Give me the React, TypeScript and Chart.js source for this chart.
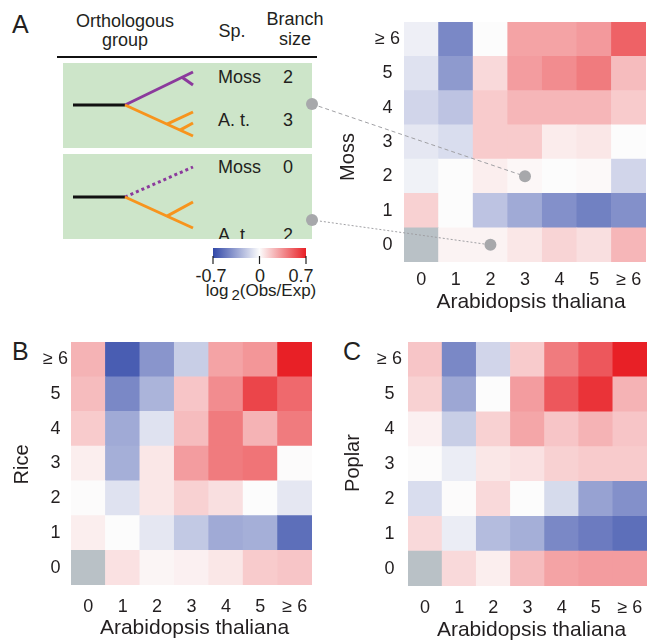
import React, { useEffect, useRef } from 'react';
import { Chart, registerables } from 'chart.js';

Chart.register(...registerables);

// ---------- data ----------
const xLabels = ['0', '1', '2', '3', '4', '5', '≥ 6'];
const yLabels = ['0', '1', '2', '3', '4', '5', '≥ 6'];
const xTitle = 'Arabidopsis thaliana';

// rows listed from bottom (0) to top (≥ 6); null = not applicable (grey)
const mossValues: (number | null)[][] = [
  [null, 0.05, 0.05, 0.1, 0.17, 0.13, 0.27],
  [0.18, 0, -0.22, -0.32, -0.42, -0.48, -0.42],
  [-0.04, 0, 0.07, 0.03, 0, 0.02, -0.15],
  [-0.08, -0.12, 0.2, 0.2, 0.08, 0.1, 0],
  [-0.15, -0.22, 0.2, 0.27, 0.27, 0.27, 0.2],
  [-0.1, -0.38, 0.15, 0.35, 0.4, 0.45, 0.25],
  [-0.05, -0.45, 0, 0.33, 0.33, 0.36, 0.52],
];
const riceValues: (number | null)[][] = [
  [null, 0.12, 0.04, 0.06, 0.1, 0.2, 0.22],
  [0.07, 0, -0.08, -0.2, -0.32, -0.3, -0.55],
  [0.01, -0.1, 0.1, 0.18, 0.13, 0, -0.08],
  [0.07, -0.3, 0.1, 0.35, 0.45, 0.47, 0.01],
  [0.2, -0.32, -0.1, 0.25, 0.45, 0.28, 0.45],
  [0.25, -0.45, -0.28, 0.22, 0.4, 0.6, 0.5],
  [0.28, -0.62, -0.4, -0.18, 0.33, 0.37, 0.7],
];
const poplarValues: (number | null)[][] = [
  [null, 0.15, 0.07, 0.25, 0.33, 0.35, 0.35],
  [0.15, -0.06, -0.25, -0.3, -0.45, -0.5, -0.55],
  [-0.12, 0.01, 0.15, 0, -0.13, -0.35, -0.42],
  [0.01, -0.06, 0.1, 0.12, 0.18, 0.2, 0.2],
  [0.06, -0.18, 0.18, 0.32, 0.22, 0.28, 0.22],
  [0.18, -0.33, 0, 0.35, 0.55, 0.65, 0.28],
  [0.22, -0.45, -0.15, 0.2, 0.45, 0.55, 0.7],
];
const colorbarTicks = ['-0.7', '0', '0.7'];
const VMAX = 0.7;

// highlighted example cells in the Moss heat map: [A. t. column, Moss row]
const mossLinks: { col: number; row: number; fromY: number; dash: number[] }[] = [
  { col: 3, row: 2, fromY: 104, dash: [4, 3] },
  { col: 2, row: 0, fromY: 220, dash: [2, 2] },
];

// ---------- style ----------
const FONT = "'Liberation Sans', Arial, Helvetica, sans-serif";
const TEXT = '#231f20';
const BLUE = [50, 72, 168];
const RED = [232, 32, 38];
const MID = [252, 252, 252];
const NA = '#b9c1c6';

function cellColor(v: number | null): string {
  if (v === null || v === undefined) return NA;
  let t = Math.min(1, Math.abs(v) / VMAX);
  if (v > 0) t = Math.pow(t, 1.2);
  const end = v >= 0 ? RED : BLUE;
  const c = MID.map((m, i) => Math.round(m + (end[i] - m) * t));
  return `rgb(${c[0]},${c[1]},${c[2]})`;
}

type Area = { l: number; t: number; r: number; b: number };
type HeatProps = {
  values: (number | null)[][];
  yTitle: string;
  left: number;
  top: number;
  width: number;
  height: number;
  padLeft: number;
  area: Area;
  tickPadX: number;
  tickPadY: number;
  xTitleDx: number;
  xTitleDy: number;
  yTitleDx: number;
  yTitleDy: number;
  links?: typeof mossLinks;
  linkFromX?: number;
};

function Heatmap(p: HeatProps) {
  const ref = useRef<HTMLCanvasElement | null>(null);
  useEffect(() => {
    const datasets = p.values.map((row, r) => ({
      data: xLabels.map(() => [r, r + 1]),
      backgroundColor: row.map(cellColor),
      borderWidth: 0,
      barPercentage: 1,
      categoryPercentage: 1,
      grouped: false,
    }));
    const titles = {
      id: 'titles',
      afterDraw(chart: any) {
        const { ctx, chartArea: a } = chart;
        ctx.save();
        ctx.fillStyle = TEXT;
        ctx.textAlign = 'center';
        ctx.textBaseline = 'middle';
        ctx.font = `21px ${FONT}`;
        ctx.fillText(xTitle, (a.left + a.right) / 2 + p.xTitleDx, a.bottom + p.xTitleDy);
        ctx.font = `20px ${FONT}`;
        ctx.translate(a.left - p.yTitleDx, (a.top + a.bottom) / 2 + p.yTitleDy);
        ctx.rotate(-Math.PI / 2);
        ctx.fillText(p.yTitle, 0, 0);
        ctx.restore();
      },
    };
    const links = {
      id: 'links',
      afterDraw(chart: any) {
        if (!p.links) return;
        const { ctx } = chart;
        const xs = chart.scales.x;
        const ys = chart.scales.y;
        ctx.save();
        for (const lk of p.links) {
          const cx = xs.getPixelForValue(lk.col);
          const cy = ys.getPixelForValue(lk.row + 0.5);
          const fx = p.linkFromX as number;
          ctx.strokeStyle = '#a0a0a4';
          ctx.lineWidth = 1;
          ctx.setLineDash(lk.dash);
          ctx.beginPath();
          ctx.moveTo(fx, lk.fromY);
          ctx.lineTo(cx, cy);
          ctx.stroke();
          ctx.setLineDash([]);
          ctx.fillStyle = '#a7a8ab';
          ctx.beginPath();
          ctx.arc(fx, lk.fromY, 6, 0, Math.PI * 2);
          ctx.fill();
          ctx.beginPath();
          ctx.arc(cx, cy, 6, 0, Math.PI * 2);
          ctx.fill();
        }
        ctx.restore();
      },
    };
    const tickFont = { family: FONT, size: 18 };
    const chart = new Chart(ref.current as HTMLCanvasElement, {
      type: 'bar',
      data: { labels: xLabels, datasets: datasets as any },
      options: {
        responsive: false,
        animation: false,
        layout: {
          padding: { left: p.padLeft, right: p.width - p.area.r, top: p.area.t, bottom: 0 },
        },
        plugins: { legend: { display: false }, tooltip: { enabled: false } },
        scales: {
          x: {
            type: 'category',
            grid: { display: false, drawTicks: false },
            border: { display: false },
            ticks: { font: tickFont, color: TEXT, padding: p.tickPadX, maxRotation: 0, autoSkip: false },
            afterFit: (s: any) => {
              s.height = p.height - p.area.b;
              s.paddingLeft = 0;
              s.paddingRight = 0;
            },
          },
          y: {
            type: 'linear',
            min: 0,
            max: 7,
            grid: { display: false, drawTicks: false },
            border: { display: false },
            ticks: {
              font: tickFont,
              color: TEXT,
              padding: p.tickPadY,
              crossAlign: 'center',
              callback: (v: any) => yLabels[Math.floor(Number(v))] ?? '',
            },
            afterBuildTicks: (s: any) => {
              s.ticks = yLabels.map((_, i) => ({ value: i + 0.5 }));
            },
            afterFit: (s: any) => {
              s.width = p.area.l - p.padLeft;
              s.paddingTop = 0;
              s.paddingBottom = 0;
            },
          },
        },
      } as any,
      plugins: [titles, links],
    });
    return () => chart.destroy();
  }, []);
  return (
    <canvas
      ref={ref}
      width={p.width}
      height={p.height}
      style={{ position: 'absolute', left: p.left, top: p.top, width: p.width, height: p.height }}
    />
  );
}

function Diagram() {
  const green = '#cde5c9';
  const purple = '#8b3a9c';
  const orange = '#f7941d';
  const sw = 3;
  const t = { fontFamily: FONT, fill: TEXT } as any;
  const rgb = (c: number[]) => `rgb(${c[0]},${c[1]},${c[2]})`;
  return (
    <svg width={658} height={640} style={{ position: 'absolute', left: 0, top: 0 }}>
      <defs>
        <linearGradient id="cbar" x1="0" x2="1" y1="0" y2="0">
          <stop offset="0" stopColor={rgb(BLUE)} />
          <stop offset="0.5" stopColor={rgb(MID)} />
          <stop offset="1" stopColor={rgb(RED)} />
        </linearGradient>
        <clipPath id="box2">
          <rect x={63} y={154} width={249} height={85} />
        </clipPath>
      </defs>
      {/* panel letters */}
      <text x={12} y={33} fontSize={25} {...t}>A</text>
      <text x={12} y={360} fontSize={25} {...t}>B</text>
      <text x={343} y={360} fontSize={25} {...t}>C</text>

      {/* header */}
      <text x={125} y={27} fontSize={18} textAnchor="middle" {...t}>Orthologous</text>
      <text x={125} y={46} fontSize={18} textAnchor="middle" {...t}>group</text>
      <text x={232} y={37} fontSize={18} textAnchor="middle" {...t}>Sp.</text>
      <text x={295} y={25} fontSize={18} textAnchor="middle" {...t}>Branch</text>
      <text x={295} y={45} fontSize={18} textAnchor="middle" {...t}>size</text>
      <line x1={57} x2={317} y1={57} y2={57} stroke="#111" strokeWidth={2} />

      {/* group 1 */}
      <rect x={63} y={63} width={249} height={85} fill={green} />
      <line x1={73} y1={105} x2={125} y2={105} stroke="#111" strokeWidth={sw} />
      <line x1={125} y1={105} x2={193} y2={72} stroke={purple} strokeWidth={sw} />
      <line x1={182} y1={77.3} x2={193} y2={85} stroke={purple} strokeWidth={sw} />
      <line x1={125} y1={105} x2={193} y2={136} stroke={orange} strokeWidth={sw} />
      <line x1={167} y1={124.1} x2={193} y2={112} stroke={orange} strokeWidth={sw} />
      <line x1={180} y1={130.1} x2={193} y2={123} stroke={orange} strokeWidth={sw} />
      <text x={218} y={83} fontSize={18} {...t}>Moss</text>
      <text x={288} y={83} fontSize={18} textAnchor="middle" {...t}>2</text>
      <text x={218} y={126} fontSize={18} {...t}>A. t.</text>
      <text x={288} y={126} fontSize={18} textAnchor="middle" {...t}>3</text>

      {/* group 2 */}
      <rect x={63} y={154} width={249} height={85} fill={green} />
      <line x1={73} y1={197} x2={125} y2={197} stroke="#111" strokeWidth={sw} />
      <line x1={125} y1={197} x2={193} y2={167} stroke={purple} strokeWidth={sw} strokeDasharray="3 3" />
      <line x1={125} y1={197} x2={193} y2={228} stroke={orange} strokeWidth={sw} />
      <line x1={167} y1={216.1} x2={193} y2={202} stroke={orange} strokeWidth={sw} />
      <text x={218} y={173} fontSize={18} {...t}>Moss</text>
      <text x={288} y={173} fontSize={18} textAnchor="middle" {...t}>0</text>
      <g clipPath="url(#box2)">
        <text x={218} y={240.5} fontSize={18} {...t}>A. t.</text>
        <text x={288} y={240.5} fontSize={18} textAnchor="middle" {...t}>2</text>
      </g>

      {/* colour bar */}
      <rect x={213} y={248} width={93} height={10} fill="url(#cbar)" />
      {[213, 259.5, 306].map((x) => (
        <line key={x} x1={x} x2={x} y1={256} y2={264} stroke="#222" strokeWidth={1.2} />
      ))}
      <text x={211} y={282} fontSize={18} textAnchor="middle" {...t}>{colorbarTicks[0]}</text>
      <text x={260} y={282} fontSize={18} textAnchor="middle" {...t}>{colorbarTicks[1]}</text>
      <text x={301} y={282} fontSize={18} textAnchor="middle" {...t}>{colorbarTicks[2]}</text>
      <text x={261} y={296} fontSize={17} textAnchor="middle" {...t}>
        log<tspan fontSize={15} dx={3} dy={4}>2</tspan><tspan dy={-4}>(Obs/Exp)</tspan>
      </text>
    </svg>
  );
}

export default function App() {
  return (
    <div
      style={{
        position: 'fixed',
        left: 0,
        top: 0,
        width: 658,
        height: 640,
        background: '#fff',
        overflow: 'hidden',
        fontFamily: FONT,
      }}
    >
      <Diagram />
      <Heatmap
        values={mossValues}
        yTitle="Moss"
        left={0}
        top={0}
        width={658}
        height={320}
        padLeft={330}
        area={{ l: 404, t: 22, r: 646, b: 262 }}
        tickPadX={7}
        tickPadY={4}
        xTitleDx={6}
        xTitleDy={40}
        yTitleDx={56}
        yTitleDy={15}
        links={mossLinks}
        linkFromX={312}
      />
      <Heatmap
        values={riceValues}
        yTitle="Rice"
        left={0}
        top={320}
        width={329}
        height={320}
        padLeft={0}
        area={{ l: 71, t: 22, r: 312, b: 265 }}
        tickPadX={11}
        tickPadY={3}
        xTitleDx={3}
        xTitleDy={43}
        yTitleDx={49}
        yTitleDy={1}
      />
      <Heatmap
        values={poplarValues}
        yTitle="Poplar"
        left={329}
        top={320}
        width={329}
        height={320}
        padLeft={0}
        area={{ l: 79, t: 22, r: 318, b: 266 }}
        tickPadX={11}
        tickPadY={6}
        xTitleDx={4}
        xTitleDy={44}
        yTitleDx={55}
        yTitleDy={-1}
      />
    </div>
  );
}
